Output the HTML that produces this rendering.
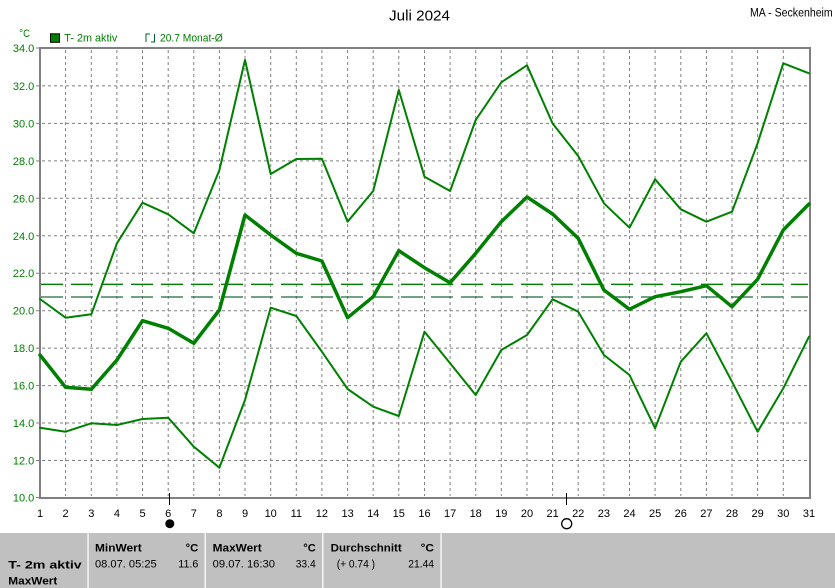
<!DOCTYPE html>
<html><head><meta charset="utf-8">
<style>
html,body{margin:0;padding:0;background:#fff;}
svg{display:block;font-family:"Liberation Sans",sans-serif;}
</style></head>
<body>
<svg width="835" height="588" viewBox="0 0 835 588" xmlns="http://www.w3.org/2000/svg">
<rect x="0" y="0" width="835" height="588" fill="#fff"/>
<!-- titles -->
<text x="389" y="20.7" font-size="15" fill="#000" textLength="61" lengthAdjust="spacingAndGlyphs">Juli 2024</text>
<text x="750" y="16.7" font-size="11.5" fill="#000" textLength="82.7" lengthAdjust="spacingAndGlyphs">MA - Seckenheim</text>
<!-- legend -->
<text x="19.3" y="37" font-size="11" fill="#008000" textLength="10.7" lengthAdjust="spacingAndGlyphs">°C</text>
<rect x="50.5" y="33.8" width="9" height="8.5" fill="#008000" stroke="#000" stroke-width="1"/>
<text x="64.3" y="41.7" font-size="11" fill="#008000" textLength="53" lengthAdjust="spacingAndGlyphs">T- 2m aktiv</text>
<path d="M146 42 V34 H150 M151 42 H154.5 V34" fill="none" stroke="#006030" stroke-width="1"/>
<text x="160" y="41.7" font-size="11" fill="#008000" textLength="62.7" lengthAdjust="spacingAndGlyphs">20.7 Monat-Ø</text>

<!-- grid -->
<g stroke="#808080" stroke-width="1" stroke-dasharray="3,3" fill="none">
<path d="M65.6 50V496M91.3 50V496M116.9 50V496M142.5 50V496M168.2 50V496M193.8 50V496M219.4 50V496M245 50V496M270.7 50V496M296.3 50V496M321.9 50V496M347.6 50V496M373.2 50V496M398.8 50V496M424.5 50V496M450.1 50V496M475.7 50V496M501.3 50V496M527 50V496M552.6 50V496M578.2 50V496M603.9 50V496M629.5 50V496M655.1 50V496M680.8 50V496M706.4 50V496M732 50V496M757.6 50V496M783.3 50V496"/>
<path d="M42 85.9H808M42 123.4H808M42 160.9H808M42 198.3H808M42 235.8H808M42 273.2H808M42 310.7H808M42 348.1H808M42 385.6H808M42 423H808M42 460.5H808"/>
</g>
<!-- average lines -->
<line x1="41" y1="284.3" x2="808" y2="284.3" stroke="#008000" stroke-width="1.3" stroke-dasharray="22,8"/>
<line x1="41" y1="297" x2="808" y2="297" stroke="#1a6a3a" stroke-width="1.3" stroke-dasharray="22,8"/>

<!-- frame -->
<g stroke="#808080" stroke-width="2" fill="none">
<line x1="40" y1="48" x2="810" y2="48"/>
<line x1="810" y1="47" x2="810" y2="498"/>
<line x1="40" y1="47" x2="40" y2="499"/>
<line x1="39" y1="498" x2="811" y2="498"/>
</g>
<g stroke="#808080" stroke-width="1">
<path d="M36 48H40M36 85.9H40M36 123.4H40M36 160.9H40M36 198.3H40M36 235.8H40M36 273.2H40M36 310.7H40M36 348.1H40M36 385.6H40M36 423H40M36 460.5H40M36 497.5H40"/>
</g>
<!-- y labels -->
<g font-size="11" fill="#008000" text-anchor="end">
<text x="34.3" y="52">34.0</text>
<text x="34.3" y="89.9">32.0</text>
<text x="34.3" y="127.4">30.0</text>
<text x="34.3" y="164.9">28.0</text>
<text x="34.3" y="202.3">26.0</text>
<text x="34.3" y="239.8">24.0</text>
<text x="34.3" y="277.2">22.0</text>
<text x="34.3" y="314.7">20.0</text>
<text x="34.3" y="352.1">18.0</text>
<text x="34.3" y="389.6">16.0</text>
<text x="34.3" y="427">14.0</text>
<text x="34.3" y="464.5">12.0</text>
<text x="34.3" y="501.5">10.0</text>
</g>
<!-- x labels -->
<g font-size="11" fill="#000" text-anchor="middle">
<text x="40" y="517">1</text><text x="65.6" y="517">2</text><text x="91.3" y="517">3</text><text x="116.9" y="517">4</text><text x="142.5" y="517">5</text><text x="168.2" y="517">6</text><text x="193.8" y="517">7</text><text x="219.4" y="517">8</text><text x="245" y="517">9</text><text x="270.7" y="517">10</text><text x="296.3" y="517">11</text><text x="321.9" y="517">12</text><text x="347.6" y="517">13</text><text x="373.2" y="517">14</text><text x="398.8" y="517">15</text><text x="424.5" y="517">16</text><text x="450.1" y="517">17</text><text x="475.7" y="517">18</text><text x="501.3" y="517">19</text><text x="527" y="517">20</text><text x="552.6" y="517">21</text><text x="578.2" y="517">22</text><text x="603.9" y="517">23</text><text x="629.5" y="517">24</text><text x="655.1" y="517">25</text><text x="680.8" y="517">26</text><text x="706.4" y="517">27</text><text x="732" y="517">28</text><text x="757.6" y="517">29</text><text x="783.3" y="517">30</text><text x="809" y="517">31</text>
</g>
<!-- moon ticks -->
<line x1="169.5" y1="493" x2="169.5" y2="505" stroke="#000" stroke-width="1"/>
<line x1="566.5" y1="493" x2="566.5" y2="505" stroke="#000" stroke-width="1"/>
<circle cx="169.8" cy="523.7" r="4.5" fill="#000"/>
<circle cx="566.7" cy="523.7" r="5" fill="none" stroke="#000" stroke-width="1.3"/>

<!-- series -->
<g fill="none" stroke="#008000" stroke-linejoin="round" stroke-linecap="round">
<polyline stroke-width="2" points="40,299 65.6,317.7 91.3,314.3 116.9,243.3 142.5,202.7 168.2,214.3 193.8,233.3 219.4,170 245,60 270.7,174 296.3,159 321.9,158.7 347.6,221.7 373.2,191 398.8,90 424.5,176.7 450.1,191 475.7,120 501.3,82.3 527,65.3 552.6,123.5 578.2,156 603.9,203.3 629.5,227.7 655.1,179.3 680.8,209.3 706.4,221.7 732,211.7 757.6,143.3 783.3,63.3 809,73.3"/>
<polyline stroke-width="3.5" points="40,355 65.6,387.3 91.3,389.3 116.9,360 142.5,320.7 168.2,328.3 193.8,343.3 219.4,310 245,215 270.7,235 296.3,253.3 321.9,261 347.6,317.7 373.2,296.7 398.8,250.7 424.5,267.7 450.1,282.7 475.7,253.3 501.3,221.7 527,197 552.6,214 578.2,238.3 603.9,290 629.5,309.3 655.1,296.7 680.8,291.7 706.4,285.7 732,306.7 757.6,279.3 783.3,230 809,204"/>
<polyline stroke-width="2" points="40,427.7 65.6,431.7 91.3,423.3 116.9,425 142.5,419 168.2,417.7 193.8,446.7 219.4,467.7 245,400 270.7,307.7 296.3,316 321.9,351.7 347.6,389 373.2,406.7 398.8,416 424.5,331.7 450.1,363.3 475.7,395 501.3,350 527,335 552.6,299.3 578.2,311.7 603.9,355 629.5,375 655.1,428.3 680.8,361.7 706.4,333.3 732,381.7 757.6,431.7 783.3,388.3 809,336.7"/>
</g>

<!-- bottom panel -->
<rect x="0" y="533" width="835" height="55" fill="#c0c0c0"/>
<g fill="#f4f4f4">
<rect x="87.3" y="533" width="1.5" height="55"/>
<rect x="204.5" y="533" width="1.5" height="55"/>
<rect x="322" y="533" width="1.5" height="55"/>
<rect x="440.3" y="533" width="1.5" height="55"/>
</g>
<g font-size="11" fill="#000">
<text x="8.3" y="568.3" font-weight="bold" textLength="73.4" lengthAdjust="spacingAndGlyphs">T- 2m aktiv</text>
<text x="8.3" y="584.3" font-weight="bold" textLength="49" lengthAdjust="spacingAndGlyphs">MaxWert</text>
<text x="95" y="551.7" font-weight="bold" textLength="46.7" lengthAdjust="spacingAndGlyphs">MinWert</text>
<text x="185.7" y="551.7" font-weight="bold" textLength="12.6" lengthAdjust="spacingAndGlyphs">°C</text>
<text x="95" y="567.3" textLength="61.7" lengthAdjust="spacingAndGlyphs">08.07.  05:25</text>
<text x="178.3" y="567.3" textLength="20" lengthAdjust="spacingAndGlyphs">11.6</text>
<text x="212.7" y="551.7" font-weight="bold" textLength="49" lengthAdjust="spacingAndGlyphs">MaxWert</text>
<text x="303.3" y="551.7" font-weight="bold" textLength="12.4" lengthAdjust="spacingAndGlyphs">°C</text>
<text x="212.7" y="567.3" textLength="62.3" lengthAdjust="spacingAndGlyphs">09.07.  16:30</text>
<text x="295.7" y="567.3" textLength="20" lengthAdjust="spacingAndGlyphs">33.4</text>
<text x="330.7" y="551.7" font-weight="bold" textLength="71" lengthAdjust="spacingAndGlyphs">Durchschnitt</text>
<text x="420.7" y="551.7" font-weight="bold" textLength="13.3" lengthAdjust="spacingAndGlyphs">°C</text>
<text x="336.7" y="567.3" textLength="38.3" lengthAdjust="spacingAndGlyphs">(+ 0.74 )</text>
<text x="408.3" y="567.3" textLength="25.7" lengthAdjust="spacingAndGlyphs">21.44</text>
</g>
</svg>
</body></html>
